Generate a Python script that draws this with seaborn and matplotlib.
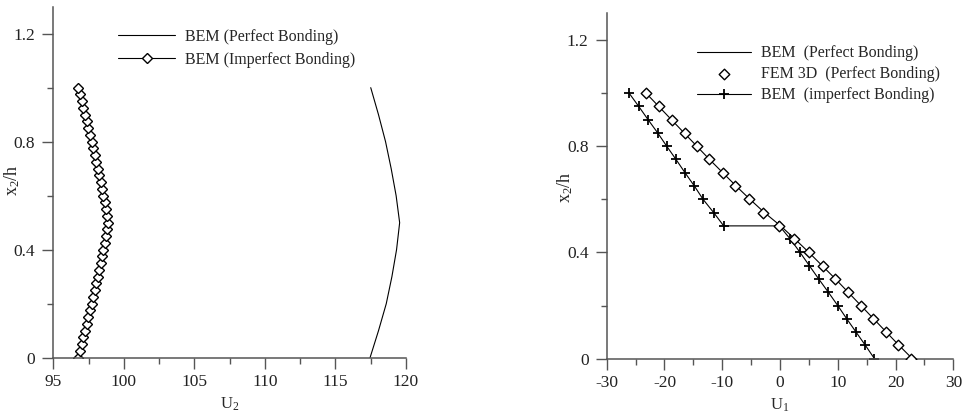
import numpy as np
import pandas as pd
import matplotlib
matplotlib.use("Agg")
import matplotlib.pyplot as plt
from matplotlib.ticker import MultipleLocator
import seaborn as sns

# ---- left panel: U2 across the thickness ----
y_left_perfect = [0.0, 0.1, 0.2, 0.3, 0.4, 0.5, 0.6, 0.7, 0.8, 0.9, 1.0]
u2_perfect = [117.45, 118.05, 118.6, 119.0, 119.33, 119.55, 119.3, 118.95, 118.55, 118.05, 117.5]

y_left_imperfect = [0.0, 0.025, 0.05, 0.075, 0.1, 0.125, 0.15, 0.175, 0.2, 0.225,
                    0.25, 0.275, 0.3, 0.325, 0.35, 0.375, 0.4, 0.425, 0.45, 0.475,
                    0.5, 0.525, 0.55, 0.575, 0.6, 0.625, 0.65, 0.675, 0.7, 0.725,
                    0.75, 0.775, 0.8, 0.825, 0.85, 0.875, 0.9, 0.925, 0.95, 0.975, 1.0]
u2_imperfect = [96.77, 96.89, 97.01, 97.13, 97.27, 97.38, 97.48, 97.60, 97.71, 97.83,
                97.95, 98.04, 98.14, 98.26, 98.35, 98.45, 98.54, 98.63, 98.71, 98.78,
                98.85, 98.78, 98.71, 98.63, 98.54, 98.45, 98.35, 98.26, 98.14, 98.04,
                97.95, 97.83, 97.71, 97.60, 97.48, 97.38, 97.27, 97.13, 97.01, 96.89, 96.77]

# ---- right panel: U1 across the thickness ----
y_right = [0.0, 0.05, 0.1, 0.15, 0.2, 0.25, 0.3, 0.35, 0.4, 0.45, 0.5,
           0.55, 0.6, 0.65, 0.7, 0.75, 0.8, 0.85, 0.9, 0.95, 1.0]
u1_bem_perfect = [22.9, 20.6, 18.4, 16.2, 14.0, 11.8, 9.6, 7.3, 5.0, 2.6, 0.1,
                  -2.7, -5.2, -7.6, -9.9, -12.2, -14.4, -16.6, -18.8, -21.0, -23.2]
u1_fem_perfect = [22.74, 20.49, 18.3, 16.16, 14.03, 11.78, 9.58, 7.5, 4.97, 2.49, -0.11,
                  -3.0, -5.3, -7.78, -9.92, -12.23, -14.36, -16.5, -18.75, -20.94, -23.19]

y_right_imperfect = [0.0, 0.05, 0.1, 0.15, 0.2, 0.25, 0.3, 0.35, 0.4, 0.45, 0.5,
                     0.5, 0.55, 0.6, 0.65, 0.7, 0.75, 0.8, 0.85, 0.9, 0.95, 1.0]
u1_bem_imperfect = [16.34, 14.78, 13.16, 11.55, 9.99, 8.37, 6.70, 5.08, 3.47, 1.79, -0.11,
                    -9.75, -11.48, -13.32, -14.82, -16.44, -18.0, -19.61, -21.17, -22.84, -24.46, -26.13]

sns.set_theme(style="ticks")
plt.rcParams["font.family"] = ["Liberation Serif", "DejaVu Serif"]
plt.rcParams["mathtext.fontset"] = "custom"
plt.rcParams["mathtext.rm"] = "Liberation Serif"
plt.rcParams["mathtext.it"] = "Liberation Serif"
plt.rcParams["axes.unicode_minus"] = False

spine_col = "#555555"

fig = plt.figure(figsize=(9.63, 4.15), dpi=100)
ax1 = fig.add_axes([0.0554, 0.138, 0.3662, 0.846])
ax2 = fig.add_axes([0.630, 0.1357, 0.360, 0.832])


def style_axes(ax, xlim, xmajor, xminor):
    ax.set_xlim(*xlim)
    ax.set_ylim(0, 1.3)
    ax.xaxis.set_major_locator(MultipleLocator(xmajor))
    ax.xaxis.set_minor_locator(MultipleLocator(xminor))
    ax.yaxis.set_minor_locator(MultipleLocator(0.2))
    ax.set_yticks([0, 0.4, 0.8, 1.2])
    ax.set_yticklabels(["0", "0.4", "0.8", "1.2"])
    for side in ("top", "right"):
        ax.spines[side].set_visible(False)
    for side in ("left", "bottom"):
        ax.spines[side].set_color(spine_col)
        ax.spines[side].set_linewidth(1.1)
    ax.tick_params(which="major", direction="out", length=8, width=1.0,
                   color=spine_col, labelsize=12.5, labelcolor="#222222")
    ax.tick_params(axis="x", which="major", pad=4)
    ax.tick_params(axis="y", which="major", pad=5)
    ax.tick_params(which="minor", direction="out", length=4, width=1.0, color=spine_col)
    ax.set_facecolor("white")


# left panel
sns.lineplot(x=u2_perfect, y=y_left_perfect, sort=False, estimator=None, ax=ax1,
             color="black", lw=0.8, label="BEM (Perfect Bonding)")
sns.lineplot(x=u2_imperfect, y=y_left_imperfect, sort=False, estimator=None, ax=ax1,
             color="black", lw=0.8, marker="D", markersize=4.6,
             markerfacecolor="white", markeredgecolor="black", markeredgewidth=1.0,
             label="BEM (Imperfect Bonding)")
style_axes(ax1, (95, 120), 5, 2.5)
ax1.set_xlabel(r"U$_2$", fontsize=12, labelpad=4)
ax1.set_ylabel(r"x$_2$/h", fontsize=13)
ax1.yaxis.set_label_coords(-0.089, 0.506)
ax1.legend(loc="upper left", bbox_to_anchor=(0.183, 0.937), frameon=False,
           fontsize=11.5, handlelength=3.6, handletextpad=0.6, labelspacing=0.45,
           borderpad=0, borderaxespad=0, numpoints=1)

# right panel
sns.lineplot(x=u1_bem_perfect, y=y_right, sort=False, estimator=None, ax=ax2,
             color="black", lw=0.8, label="BEM  (Perfect Bonding)")
sns.scatterplot(x=u1_fem_perfect, y=y_right, ax=ax2, marker="D", s=29,
                facecolor="white", edgecolor="black", linewidth=1.0, zorder=3,
                label="FEM 3D  (Perfect Bonding)")
sns.lineplot(x=u1_bem_imperfect, y=y_right_imperfect, sort=False, estimator=None, ax=ax2,
             color="black", lw=0.8, marker="+", markersize=7,
             markeredgecolor="black", markeredgewidth=1.3,
             label="BEM  (imperfect Bonding)")
style_axes(ax2, (-30, 30), 10, 5)
ax2.set_xlabel(r"U$_1$", fontsize=12, labelpad=4)
ax2.set_ylabel(r"x$_2$/h", fontsize=13)
ax2.yaxis.set_label_coords(-0.091, 0.497)
ax2.legend(loc="upper left", bbox_to_anchor=(0.26, 0.908), frameon=False,
           fontsize=11.5, handlelength=3.4, handletextpad=0.6, labelspacing=0.32,
           borderpad=0, borderaxespad=0, numpoints=1, scatterpoints=1)

fig.savefig("out.png", dpi=100, facecolor="white")
